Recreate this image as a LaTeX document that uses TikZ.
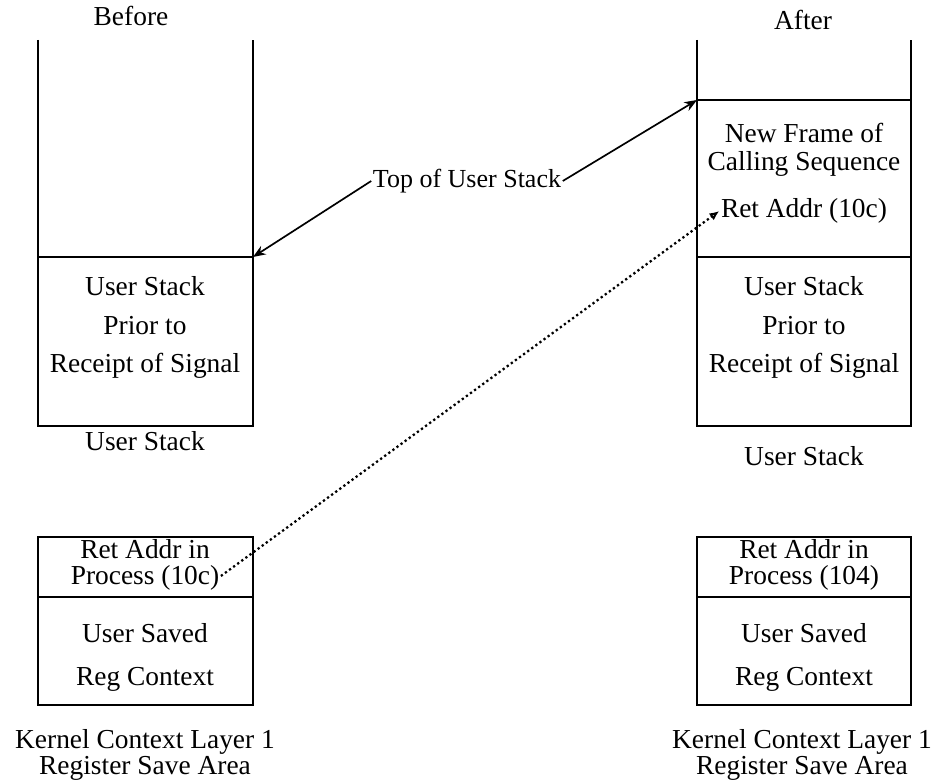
\documentclass[tikz,border=0pt]{standalone}
\usepackage{fontspec}
\setmainfont{Liberation Serif}
\usetikzlibrary{arrows.meta,positioning,calc}
\tikzset{
  wall/.style={line width=1.3pt, black},
  word/.style={font=\fontsize{19.5}{19}\selectfont, inner sep=1pt, align=center},
  pointer/.style={-{Stealth[length=9pt,width=7pt]}, line width=1.2pt},
  dotptr/.style={-{Latex[open,length=7pt,width=6pt]}, dotted, line width=1.6pt}
}

\begin{document}
\begin{tikzpicture}[x=0.025cm,y=-0.025cm]
  \useasboundingbox (0,0) rectangle (941,780);
  % before
  \node[word] (before) at (131,16) {Before};
  \draw[wall] (38,40) -- (38,426) -- (253,426) -- (253,40);
  \coordinate (oldtop) at (253,257);
  \draw[wall] (38,257) -- (oldtop);
  \node[word] (oldus) at (145,286) {User Stack};
  \node[word] (oldprior) at (145,326) {Prior to};
  \node[word] (oldrecv) at (145,366) {Receipt of Signal};
  \node[word] (oldlab) at (145,441) {User Stack};
  % after
  \node[word] (after) at (803,20) {After};
  \draw[wall] (697,40) -- (697,426) -- (911,426) -- (911,40);
  \coordinate (newtop) at (697,100);
  \draw[wall] (newtop) -- (911,100);
  \draw[wall] (697,257) -- (911,257);
  \node[word] (frame) at (804,133) {New Frame of};
  \node[word] (calling) at (804,164) {Calling Sequence};
  \node[word] (retnew) at (804,211) {Ret Addr (10c)};
  \node[word] (newus) at (804,286) {User Stack};
  \node[word] (newprior) at (804,326) {Prior to};
  \node[word] (newrecv) at (804,366) {Receipt of Signal};
  \node[word] (newlab) at (804,456) {User Stack};
  % top of stack pointer
  \node[word, font=\fontsize{18.5}{19}\selectfont] (top) at (467,181) {Top of User Stack};
  \draw[pointer] (top.west) -- (oldtop);
  \draw[pointer] (top.east) -- (newtop);
  % kernel save areas
  \draw[wall] (38,537) rectangle (253,705);
  \draw[wall] (38,597) -- (253,597);
  \node[word] (procl) at (145,565) {Ret Addr in\\Process (10c)};
  \node[word] (savedl) at (145,633) {User Saved};
  \node[word] (regl) at (145,679) {Reg Context};
  \node[word] (kernl) at (145,755) {Kernel Context Layer 1\\Register Save Area};
  \draw[wall] (697,537) rectangle (911,705);
  \draw[wall] (697,597) -- (911,597);
  \node[word] (procr) at (804,565) {Ret Addr in\\Process (104)};
  \node[word] (savedr) at (804,633) {User Saved};
  \node[word] (regr) at (804,679) {Reg Context};
  \node[word] (kernr) at (802,755) {Kernel Context Layer 1\\Register Save Area};
  % return address
  \draw[dotptr] ($(procl.south east)!0.3!(procl.north east)$) -- (retnew.west);
\end{tikzpicture}
\end{document}
